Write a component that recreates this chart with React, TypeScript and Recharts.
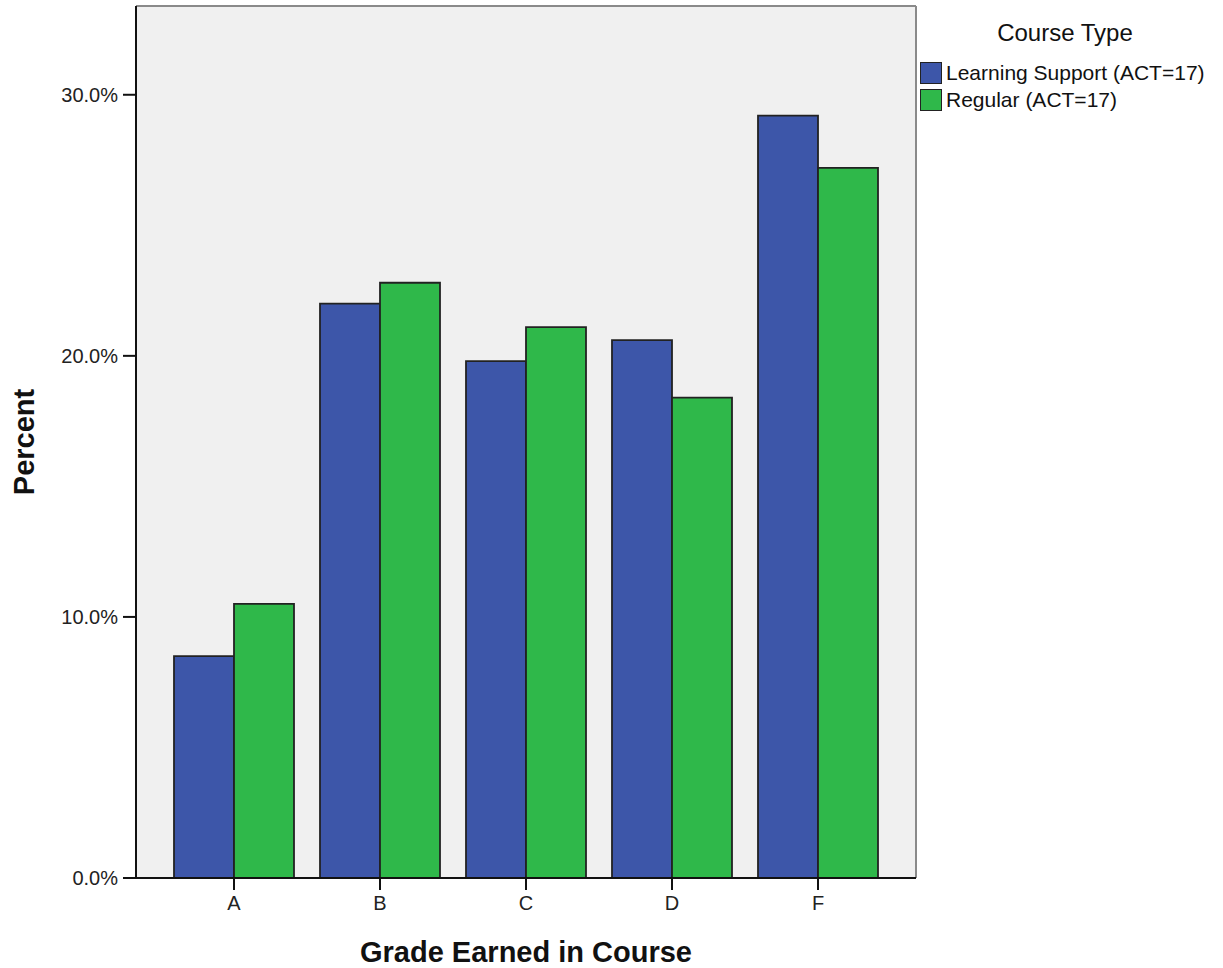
import React from "react";
import { BarChart, Bar, XAxis, YAxis, CartesianGrid } from "recharts";

const grades = ["A", "B", "C", "D", "F"];
const learningSupport = [8.5, 22.0, 19.8, 20.6, 29.2];
const regular = [10.5, 22.8, 21.1, 18.4, 27.2];
const yTicks = [0, 10, 20, 30];

const seriesNames = ["Learning Support (ACT=17)", "Regular (ACT=17)"];
const seriesColors = ["#3d56a9", "#2fb84a"];

const data = grades.map((g, i) => ({ grade: g, ls: learningSupport[i], reg: regular[i] }));

const font = "'Liberation Sans', Arial, sans-serif";

const LegendBox = () => (
  <div style={{ position: "absolute", left: 920, top: 19, width: 300, fontFamily: font, color: "#111" }}>
    <div style={{ fontSize: 24, lineHeight: "28px", textAlign: "center", width: 290, marginBottom: 12 }}>Course Type</div>
    {seriesNames.map((n, i) => (
      <div key={n} style={{ display: "flex", alignItems: "center", height: 27, fontSize: 21 }}>
        <span
          style={{
            width: 20,
            height: 20,
            background: seriesColors[i],
            border: "1px solid #222",
            marginRight: 4,
            display: "inline-block",
          }}
        />
        {n}
      </div>
    ))}
  </div>
);

export default function App() {
  return (
    <div style={{ position: "absolute", left: 0, top: 0, width: 1223, height: 968, background: "#fff" }}>
      <BarChart
        width={1223}
        height={968}
        data={data}
        margin={{ top: 6, right: 307, bottom: 0, left: 0 }}
        barCategoryGap={13}
        barGap={0}
      >
        <CartesianGrid
          fill="#f0f0f0"
          stroke="#8a8a8a"
          strokeWidth={2}
          horizontalCoordinatesGenerator={({ offset }: any) => [offset.top]}
          verticalCoordinatesGenerator={({ offset }: any) => [offset.left + offset.width]}
        />
        <XAxis
          dataKey="grade"
          height={90}
          padding={{ left: 25, right: 25 }}
          tickSize={12}
          tickMargin={6}
          axisLine={{ stroke: "#111", strokeWidth: 2 }}
          tickLine={{ stroke: "#111", strokeWidth: 2 }}
          tick={{ fill: "#222", fontSize: 20, fontFamily: font }}
          label={{ value: "Grade Earned in Course", position: "insideBottom", offset: 6, fill: "#111", fontSize: 29, fontWeight: "bold", fontFamily: font }}
        />
        <YAxis
          width={136}
          domain={[0, 33.4]}
          ticks={yTicks}
          tickFormatter={(v: number) => v.toFixed(1) + "%"}
          tickSize={13}
          tickMargin={5}
          axisLine={{ stroke: "#111", strokeWidth: 2 }}
          tickLine={{ stroke: "#111", strokeWidth: 2 }}
          tick={{ fill: "#222", fontSize: 20, fontFamily: font }}
          label={{ value: "Percent", angle: -90, position: "insideLeft", offset: 24, textAnchor: "middle", fill: "#111", fontSize: 29, fontWeight: "bold", fontFamily: font }}
        />
        <Bar dataKey="ls" name={seriesNames[0]} fill={seriesColors[0]} stroke="#222" strokeWidth={1.8} isAnimationActive={false} />
        <Bar dataKey="reg" name={seriesNames[1]} fill={seriesColors[1]} stroke="#222" strokeWidth={1.8} isAnimationActive={false} />
      </BarChart>
      <LegendBox />
    </div>
  );
}
